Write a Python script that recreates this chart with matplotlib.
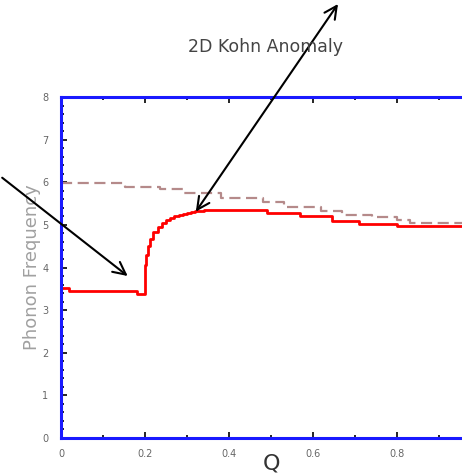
import matplotlib.pyplot as plt
from matplotlib.ticker import MultipleLocator

# phonon branch with the Kohn anomaly (solid) and the smooth reference branch (dashed)
red_q = [0.0, 0.02, 0.18, 0.2, 0.203, 0.207, 0.212, 0.22, 0.23, 0.24, 0.25, 0.26,
         0.27, 0.28, 0.29, 0.30, 0.31, 0.32, 0.34, 0.36, 0.49, 0.57, 0.645, 0.71, 0.80, 1.0]
red_f = [3.52, 3.46, 3.38, 4.06, 4.3, 4.5, 4.68, 4.83, 4.95, 5.04, 5.11, 5.16,
         5.2, 5.23, 5.26, 5.28, 5.3, 5.32, 5.34, 5.35, 5.27, 5.2, 5.1, 5.03, 4.98, 4.98]

dash_q = [0.0, 0.152, 0.236, 0.29, 0.38, 0.48, 0.53, 0.62, 0.67, 0.74, 0.80, 0.83, 1.0]
dash_f = [5.99, 5.89, 5.84, 5.75, 5.63, 5.54, 5.42, 5.33, 5.23, 5.19, 5.12, 5.05, 5.05]

plt.rcParams['font.family'] = ['DejaVu Sans']

fig = plt.figure(figsize=(4.62, 4.74), dpi=100)
ax = fig.add_axes([61 / 462, 36 / 474, 420 / 462, 341 / 474])

ax.plot(dash_q, dash_f, drawstyle='steps-post', color='#b58a8a', lw=1.6,
        linestyle=(0, (5, 2.5)))
ax.plot(red_q, red_f, drawstyle='steps-post', color='red', lw=2)

ax.set_xlim(0, 1)
ax.set_ylim(0, 8)
ax.xaxis.set_major_locator(MultipleLocator(0.2))
ax.xaxis.set_minor_locator(MultipleLocator(0.1))
ax.yaxis.set_major_locator(MultipleLocator(1))
ax.yaxis.set_minor_locator(MultipleLocator(0.2))
ax.set_xticks([0, 0.2, 0.4, 0.6, 0.8], ['0', '0.2', '0.4', '0.6', '0.8'])
ax.tick_params(which='both', direction='in', top=True, color='black', width=1.2,
               labelsize=7, labelcolor='#666666')
ax.tick_params(which='major', length=4)
ax.tick_params(axis='y', which='major', pad=9)
ax.tick_params(axis='x', which='major', pad=8)
ax.tick_params(which='minor', length=2)

for side in ['left', 'top', 'bottom', 'right']:
    ax.spines[side].set_color('#1a1aff')
    ax.spines[side].set_linewidth(2.2)

ax.set_ylabel('Phonon Frequency', color='#a0a0a0', fontsize=13, labelpad=1)
ax.set_xlabel('Q', color='#333333', fontsize=16, labelpad=-4)
fig.text(265 / 462, 1 - 47 / 474, '2D Kohn Anomaly', ha='center', va='center',
         fontsize=12.5, color='#444444')

# arrows pointing at the anomaly
ax.annotate('', xy=(0.164, 3.76), xycoords='data',
            xytext=(0.0, 1 - 176 / 474), textcoords='figure fraction',
            arrowprops=dict(arrowstyle='->,head_length=0.9,head_width=0.45',
                            color='black', lw=1.5))
ax.annotate('', xy=(0.321, 5.31), xycoords='data',
            xytext=(338 / 462, 1 - 4 / 474), textcoords='figure fraction',
            arrowprops=dict(arrowstyle='<->,head_length=0.9,head_width=0.45',
                            color='black', lw=1.5, shrinkA=0, shrinkB=0))

fig.savefig('out.png', dpi=100)
